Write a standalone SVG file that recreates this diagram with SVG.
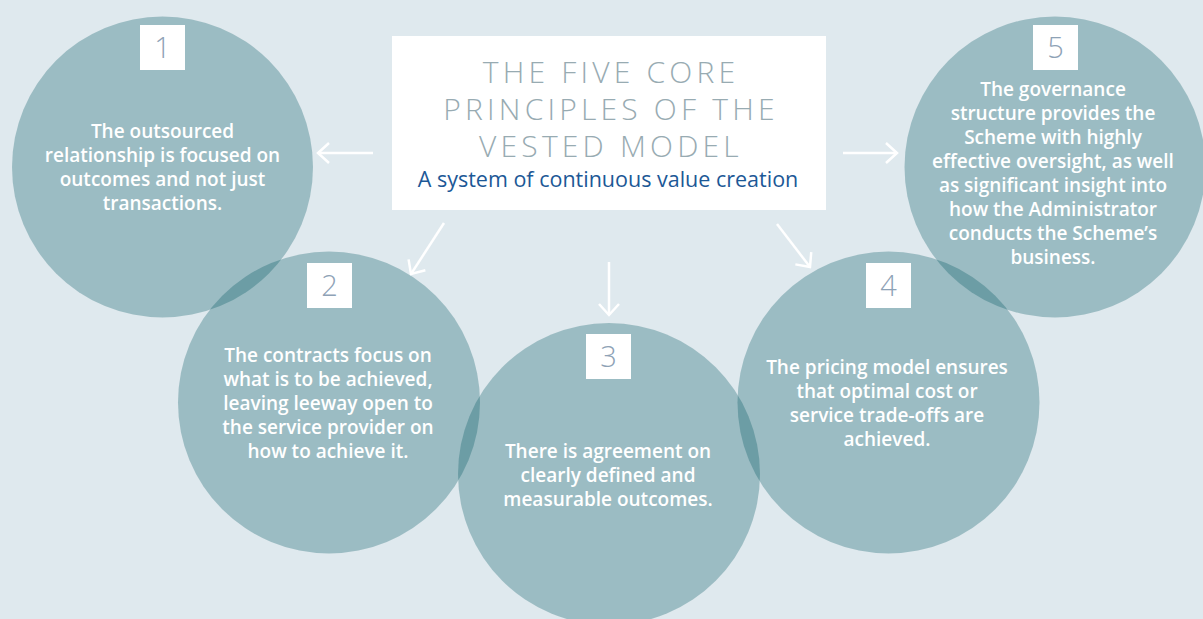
<svg xmlns="http://www.w3.org/2000/svg" width="1203" height="619" viewBox="0 0 1203 619">
<style>
.bg{fill:#dfe9ee}
.circ{fill:#00555f;fill-opacity:0.3}
.nbox{fill:#ffffff}
.num{font-family:"Open Sans","Liberation Sans",sans-serif;font-weight:300;font-size:29px;fill:#8ea2b6;text-anchor:middle}
.body{font-family:"Open Sans","Liberation Sans",sans-serif;font-weight:600;font-size:19px;fill:#ffffff;text-anchor:middle}
.title{font-family:"Open Sans","Liberation Sans",sans-serif;font-weight:300;font-size:30px;fill:#98abb2;text-anchor:middle;letter-spacing:4.2px}
.sub{font-family:"Open Sans","Liberation Sans",sans-serif;font-weight:400;font-size:21.5px;fill:#1c5896;text-anchor:middle}
.conn{stroke:#ffffff;stroke-width:2.5;fill:none;marker-end:url(#head)}
</style>
<defs>
<marker id="head" markerUnits="userSpaceOnUse" viewBox="-14 -12 16 24" refX="0" refY="0" markerWidth="16" markerHeight="24" orient="auto">
<path d="M-11,-10 L0,0 L-11,10" fill="none" stroke="#ffffff" stroke-width="2.5"/>
</marker>
</defs>
<rect class="bg" x="0" y="0" width="1203" height="619"/>

<g id="node1">
<circle class="circ" cx="162.5" cy="167" r="150.5"/>
<rect class="nbox" x="140" y="25" width="45" height="45"/>
<text class="num" x="162.5" y="58">1</text>
<text class="body" x="162.5" y="138">The outsourced</text>
<text class="body" x="162.5" y="162">relationship is focused on</text>
<text class="body" x="162.5" y="186">outcomes and not just</text>
<text class="body" x="162.5" y="210">transactions.</text>
</g>

<g id="node2">
<circle class="circ" cx="329" cy="402.5" r="151"/>
<rect class="nbox" x="307" y="263" width="45" height="45"/>
<text class="num" x="329.5" y="296">2</text>
<text class="body" x="328" y="362">The contracts focus on</text>
<text class="body" x="328" y="386">what is to be achieved,</text>
<text class="body" x="328" y="410">leaving leeway open to</text>
<text class="body" x="328" y="434">the service provider on</text>
<text class="body" x="328" y="458">how to achieve it.</text>
</g>

<g id="node3">
<circle class="circ" cx="609" cy="474" r="151"/>
<rect class="nbox" x="586" y="334" width="45" height="45"/>
<text class="num" x="608.5" y="367">3</text>
<text class="body" x="608" y="458">There is agreement on</text>
<text class="body" x="608" y="482">clearly defined and</text>
<text class="body" x="608" y="506">measurable outcomes.</text>
</g>

<g id="node4">
<circle class="circ" cx="888.5" cy="402.5" r="151"/>
<rect class="nbox" x="866" y="263" width="45" height="45"/>
<text class="num" x="888.5" y="296">4</text>
<text class="body" x="887" y="374">The pricing model ensures</text>
<text class="body" x="887" y="398">that optimal cost or</text>
<text class="body" x="887" y="422">service trade-offs are</text>
<text class="body" x="887" y="446">achieved.</text>
</g>

<g id="node5">
<circle class="circ" cx="1055" cy="167" r="150.5"/>
<rect class="nbox" x="1033" y="25" width="45" height="45"/>
<text class="num" x="1055.5" y="58">5</text>
<text class="body" x="1053" y="96">The governance</text>
<text class="body" x="1053" y="120">structure provides the</text>
<text class="body" x="1053" y="144">Scheme with highly</text>
<text class="body" x="1053" y="168">effective oversight, as well</text>
<text class="body" x="1053" y="192">as significant insight into</text>
<text class="body" x="1053" y="216">how the Administrator</text>
<text class="body" x="1053" y="240">conducts the Scheme’s</text>
<text class="body" x="1053" y="264">business.</text>
</g>

<g id="title">
<rect x="392" y="36" width="434" height="174" fill="#ffffff"/>
<text class="title" x="611" y="83">THE FIVE CORE</text>
<text class="title" x="611" y="120">PRINCIPLES OF THE</text>
<text class="title" x="611" y="157">VESTED MODEL</text>
<text class="sub" x="608" y="187">A system of continuous value creation</text>
</g>

<g id="connectors">
<line class="conn" x1="373" y1="153" x2="318" y2="153"/>
<line class="conn" x1="843" y1="153" x2="897" y2="153"/>
<line class="conn" x1="444" y1="223" x2="411" y2="274"/>
<line class="conn" x1="609" y1="262" x2="609" y2="315"/>
<line class="conn" x1="777" y1="224" x2="810" y2="267"/>
</g>
</svg>
